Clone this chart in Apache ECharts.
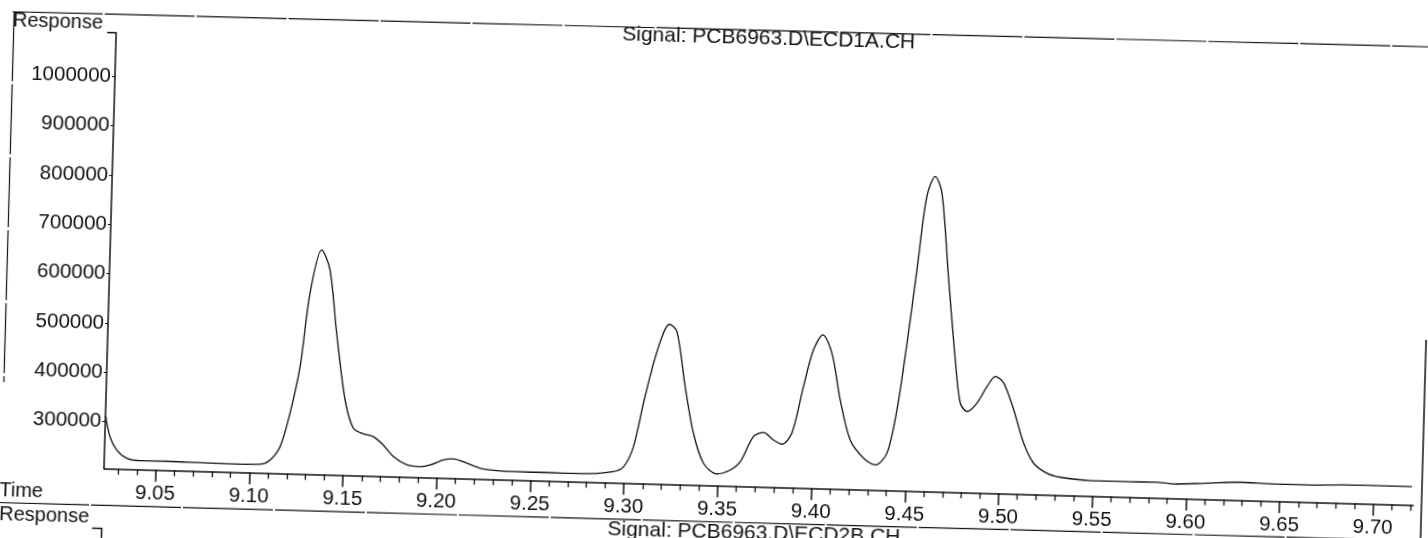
<!DOCTYPE html>
<html>
<head>
<meta charset="utf-8">
<script src="https://cdn.jsdelivr.net/npm/echarts@6/dist/echarts.min.js"></script>
<style>
  html, body { margin: 0; padding: 0; background: #fff; overflow: hidden; }
  #chart { position: absolute; left: 0; top: 0; width: 1428px; height: 538px;
           transform: rotate(1.6deg); transform-origin: 104px 468.3px; }
</style>
</head>
<body>
<div id="chart"></div>
<script>
// Retention time (min)
const times = [
  9.0225, 9.0251, 9.0289, 9.0344, 9.0415, 9.0558, 9.0735, 9.0913, 9.1056, 9.1109,
  9.1160, 9.1208, 9.1255, 9.1297, 9.1353, 9.1400, 9.1445, 9.1500, 9.1548, 9.1602,
  9.1656, 9.1710, 9.1766, 9.1839, 9.1910, 9.1963, 9.2034, 9.2087, 9.2159, 9.2248,
  9.2408, 9.2586, 9.2764, 9.2942, 9.2996, 9.3045, 9.3092, 9.3140, 9.3188, 9.3219,
  9.3260, 9.3312, 9.3363, 9.3421, 9.3494, 9.3565, 9.3617, 9.3684, 9.3737, 9.3791,
  9.3837, 9.3888, 9.3943, 9.3991, 9.4039, 9.4090, 9.4141, 9.4200, 9.4274, 9.4338,
  9.4398, 9.4445, 9.4489, 9.4531, 9.4573, 9.4615, 9.4653, 9.4700, 9.4749, 9.4782,
  9.4819, 9.4871, 9.4922, 9.4965, 9.5011, 9.5068, 9.5126, 9.5182, 9.5254, 9.5325,
  9.5487, 9.5665, 9.5843, 9.5932, 9.6110, 9.6289, 9.6467, 9.6645, 9.6822, 9.7000,
  9.7204
];
// Detector response
const responses = [
  312000, 270000, 243300, 227000, 223000, 223300, 222400, 221600, 222500, 231800,
  259200, 327600, 422600, 572000, 660400, 620300, 492400, 357600, 300800, 289900,
  284800, 268600, 245500, 229500, 226700, 230700, 241600, 244300, 236400, 225600,
  221900, 221800, 221600, 227600, 238200, 279300, 367900, 449600, 511000, 529400,
  514900, 404000, 309900, 249700, 228900, 237600, 255000, 306500, 315200, 300800,
  292700, 315600, 410700, 485700, 516500, 480000, 385700, 305300, 269000, 256000,
  280300, 368700, 504500, 653700, 802700, 843900, 810600, 641800, 473300, 385900,
  369300, 386800, 421000, 441900, 428900, 375400, 308300, 268400, 248900, 241600,
  236400, 236100, 236900, 234300, 237800, 241600, 240000, 239900, 241800, 242200,
  242400
];
// Axis tick labels
const xMajorTicks = [9.05, 9.10, 9.15, 9.20, 9.25, 9.30, 9.35, 9.40, 9.45, 9.50, 9.55, 9.60, 9.65, 9.70];
const xMinorTicks = [9.03, 9.04, 9.06, 9.07, 9.08, 9.09, 9.11, 9.12, 9.13, 9.14, 9.16, 9.17, 9.18, 9.19,
  9.21, 9.22, 9.23, 9.24, 9.26, 9.27, 9.28, 9.29, 9.31, 9.32, 9.33, 9.34, 9.36, 9.37, 9.38, 9.39,
  9.41, 9.42, 9.43, 9.44, 9.46, 9.47, 9.48, 9.49, 9.51, 9.52, 9.53, 9.54, 9.56, 9.57, 9.58, 9.59,
  9.61, 9.62, 9.63, 9.64, 9.66, 9.67, 9.68, 9.69, 9.71, 9.72];
const yTicks = [300000, 400000, 500000, 600000, 700000, 800000, 900000, 1000000];
const titleText = 'Signal: PCB6963.D\\ECD1A.CH';
const lowerTitleText = 'Signal: PCB6963.D\\ECD2B.CH';

const FONT = 'Liberation Sans, Arial, sans-serif';
const INK = '#111';
const xMin = 9.0224, xMax = 9.7213, yMin = 205500, yMax = 1088500;

const chart = echarts.init(document.getElementById('chart'), null, { renderer: 'canvas' });
chart.setOption({
  animation: false,
  backgroundColor: '#fff',
  title: {
    text: titleText, left: 610, top: 10, padding: 0,
    textStyle: { fontFamily: FONT, fontSize: 21, fontWeight: 'normal', color: INK }
  },
  grid: { left: 104, top: 32.6, right: 14.3, bottom: 69.7, containLabel: false },
  xAxis: [
    {
      type: 'value', min: xMin, max: xMax, position: 'bottom',
      axisLine: { show: true, onZero: false, lineStyle: { color: INK, width: 1.5 } },
      axisTick: { show: true, length: 12, customValues: xMajorTicks, lineStyle: { color: INK, width: 1.5 } },
      axisLabel: {
        show: true, customValues: xMajorTicks, margin: 14,
        fontFamily: FONT, fontSize: 20.5, color: INK,
        formatter: v => v.toFixed(2)
      },
      splitLine: { show: false }
    },
    {
      type: 'value', min: xMin, max: xMax, position: 'bottom',
      axisLine: { show: false, onZero: false },
      axisTick: { show: true, length: 6, customValues: xMinorTicks, lineStyle: { color: INK, width: 1.3 } },
      axisLabel: { show: false },
      splitLine: { show: false }
    }
  ],
  yAxis: {
    type: 'value', min: yMin, max: yMax,
    axisLine: { show: true, onZero: false, lineStyle: { color: INK, width: 1.5 } },
    axisTick: { show: true, length: 3, customValues: yTicks, lineStyle: { color: INK, width: 1 } },
    axisLabel: {
      show: true, customValues: yTicks, margin: 4,
      fontFamily: FONT, fontSize: 20.5, color: INK,
      formatter: v => String(Math.round(v))
    },
    splitLine: { show: false }
  },
  graphic: [
    { type: 'text', left: 0.5, top: 13, style: { text: 'Response', font: '20px ' + FONT, fill: INK } },
    { type: 'line', shape: { x1: 95, y1: 32.6, x2: 104, y2: 32.6 }, style: { stroke: INK, lineWidth: 1.5 } },
    { type: 'text', left: 0, top: 483, style: { text: 'Time', font: '20px ' + FONT, fill: INK } },
    { type: 'text', left: 0.5, top: 507, style: { text: 'Response', font: '20px ' + FONT, fill: INK } },
    { type: 'polyline', shape: { points: [[93.7, 528.6], [103.4, 528.6], [103.4, 545]] }, style: { stroke: INK, lineWidth: 1.5, fill: null } },
    { type: 'text', left: 609, top: 505, style: { text: lowerTitleText, font: '21px ' + FONT, fill: INK } },
    // page frame lines of the printed report
    { type: 'line', shape: { x1: 0, y1: 14.5, x2: 1428, y2: 10 }, style: { stroke: INK, lineWidth: 1.2, lineDash: [90, 2] } },
    { type: 'line', shape: { x1: 0, y1: 505.5, x2: 1428, y2: 504 }, style: { stroke: INK, lineWidth: 1.2, lineDash: [90, 2] } },
    { type: 'line', shape: { x1: 1.5, y1: 14, x2: 1.5, y2: 385 }, style: { stroke: INK, lineWidth: 1.2, lineDash: [70, 3] } },
    { type: 'line', shape: { x1: 1422, y1: 303, x2: 1422, y2: 545 }, style: { stroke: INK, lineWidth: 1.5 } }
  ],
  series: [{
    type: 'line',
    name: 'ECD1A',
    xAxisIndex: 0,
    data: times.map((t, i) => [t, responses[i]]),
    showSymbol: false,
    smooth: 0.3,
    lineStyle: { color: INK, width: 1.3 }
  }]
});
</script>
</body>
</html>
